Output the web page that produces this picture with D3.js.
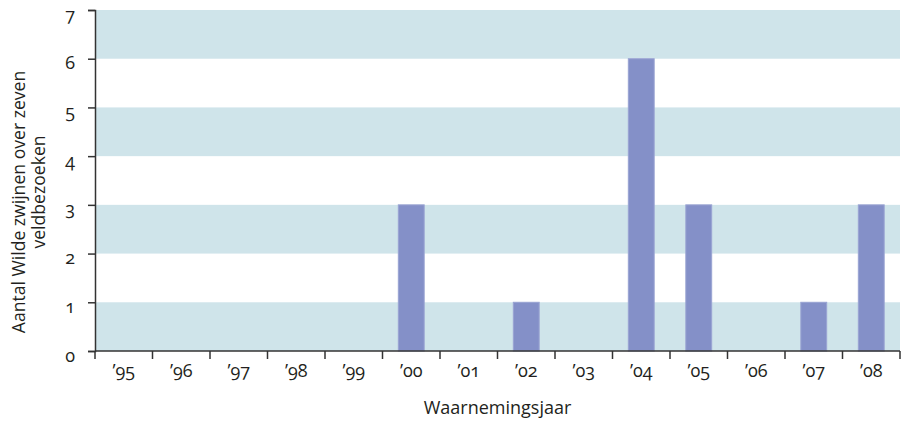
<!DOCTYPE html>
<html>
<head>
<meta charset="utf-8">
<script src="https://cdn.jsdelivr.net/npm/d3@7"></script>
<style>
  body { margin: 0; background: #fff; }
  #chart { position: relative; width: 911px; height: 424px; }
  svg { position: absolute; left: 0; top: 0; }
  .lbl { position: absolute; font-family: "Open Sans", "Noto Sans", sans-serif; font-size: 18px; color: #231f20;
         font-variant-numeric: oldstyle-nums; line-height: 1; white-space: nowrap; }
</style>
</head>
<body>
<div id="chart"></div>
<script>
const years = ["’95", "’96", "’97", "’98", "’99", "’00", "’01", "’02", "’03", "’04", "’05", "’06", "’07", "’08"];
const counts = [0, 0, 0, 0, 0, 3, 0, 1, 0, 6, 3, 0, 1, 3];
const yTicks = [0, 1, 2, 3, 4, 5, 6, 7];
const bandStarts = [0, 2, 4, 6];

const width = 911, height = 424;
const margin = { top: 10, right: 11, bottom: 73, left: 95 };

const chart = d3.select("#chart");
const svg = chart.append("svg").attr("width", width).attr("height", height);

const x = d3.scaleBand().domain(years).range([margin.left, width - margin.right]).paddingInner(0).paddingOuter(0);
const y = d3.scaleLinear().domain([0, 7]).range([height - margin.bottom, margin.top]);

// alternating bands
svg.selectAll(".band").data(bandStarts).enter().append("rect")
    .attr("class", "band")
    .attr("x", margin.left)
    .attr("width", width - margin.right - margin.left)
    .attr("y", d => y(d + 1))
    .attr("height", d => y(d) - y(d + 1))
    .attr("fill", "#cfe4ea");

// bars
const bw = x.bandwidth() * 0.45;
svg.selectAll(".bar").data(years.map((yr, i) => ({ yr, v: counts[i] })).filter(d => d.v > 0))
    .enter().append("rect")
    .attr("class", "bar")
    .attr("x", d => x(d.yr) + (x.bandwidth() - bw) / 2)
    .attr("width", bw)
    .attr("y", d => y(d.v))
    .attr("height", d => y(0) - y(d.v))
    .attr("fill", "#8490c8")
    .attr("stroke", "#9aa4d3")
    .attr("stroke-width", 1);

// y axis (lines only, labels as html so oldstyle figures work)
const yAxis = svg.append("g")
    .attr("transform", `translate(${margin.left},0)`)
    .call(d3.axisLeft(y).tickValues(yTicks).tickSize(7).tickFormat(""));
yAxis.select(".domain").attr("stroke", "#333").attr("stroke-width", 1.5);
yAxis.selectAll(".tick line").attr("stroke", "#333").attr("stroke-width", 1.5);

chart.selectAll(".ylbl").data(yTicks).enter().append("div")
    .attr("class", "lbl")
    .style("right", (width - margin.left + 20) + "px")
    .style("top", d => (y(d) - 5.5) + "px")
    .text(d => d);

// x axis with ticks at band boundaries
const xAxis = svg.append("g").attr("transform", `translate(0,${y(0)})`);
xAxis.append("line")
    .attr("x1", margin.left).attr("x2", width - margin.right)
    .attr("stroke", "#333").attr("stroke-width", 1.5);
const bounds = years.map(d => x(d)).concat([x(years[years.length - 1]) + x.bandwidth()]);
xAxis.selectAll(".tk").data(bounds).enter().append("line")
    .attr("x1", d => d).attr("x2", d => d)
    .attr("y1", 0).attr("y2", 8)
    .attr("stroke", "#333").attr("stroke-width", 1.5);

chart.selectAll(".xlbl").data(years).enter().append("div")
    .attr("class", "lbl")
    .style("left", d => (x(d) + x.bandwidth() / 2) + "px")
    .style("top", (y(0) + 9.5) + "px")
    .style("transform", "translateX(-50%)")
    .text(d => d);

// axis titles
chart.append("div")
    .attr("class", "lbl")
    .style("left", ((margin.left + width - margin.right) / 2) + "px")
    .style("top", "398px")
    .style("transform", "translateX(-50%)")
    .text("Waarnemingsjaar");

// y title, two lines
chart.append("div")
    .attr("class", "lbl")
    .style("left", "19px")
    .style("top", "202px")
    .style("font-size", "17.6px")
    .style("transform", "translate(-50%,-50%) rotate(-90deg)")
    .text("Aantal Wilde zwijnen over zeven");
chart.append("div")
    .attr("class", "lbl")
    .style("left", "39px")
    .style("top", "192px")
    .style("font-size", "17.6px")
    .style("transform", "translate(-50%,-50%) rotate(-90deg)")
    .text("veldbezoeken");
</script>
</body>
</html>
